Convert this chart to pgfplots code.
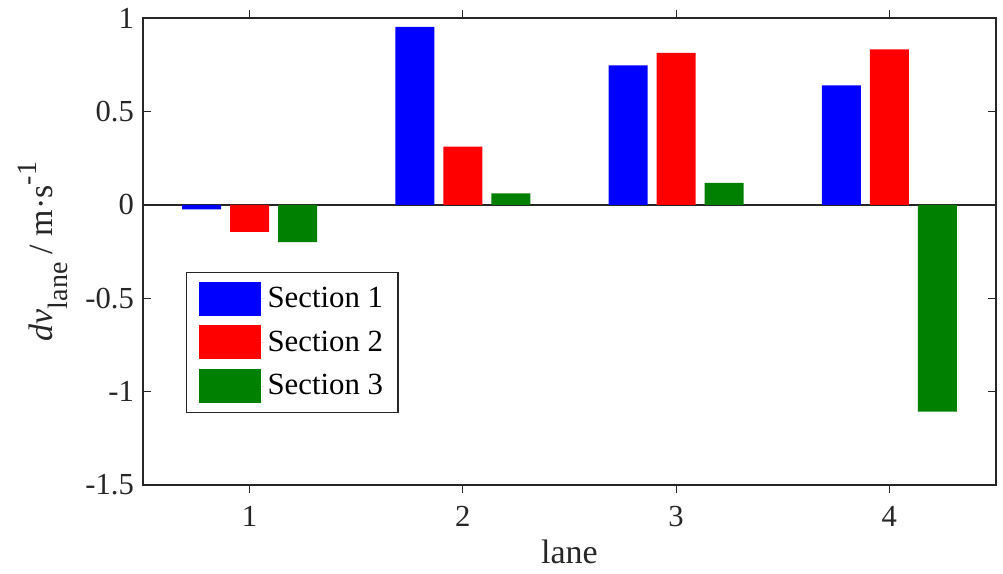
\documentclass[border=0pt]{standalone}
\usepackage{fontspec}
\setmainfont{Liberation Serif}
\usepackage{pgfplots}
\pgfplotsset{compat=1.18}
\definecolor{axgray}{RGB}{38,38,38}
\definecolor{mgreen}{RGB}{0,128,0}
\begin{document}
\begin{tikzpicture}
\begin{axis}[
  name=ax,
  scale only axis,
  width=426.5pt, height=233.5pt,
  xmin=0.5, xmax=4.5, ymin=-1.5, ymax=1,
  xtick={1,2,3,4}, xticklabels={1,2,3,4},
  ytick={-1.5,-1,-0.5,0,0.5,1},
  yticklabels={-1.5,-1,-0.5,0,0.5,1},
  tick align=inside, tick pos=both,
  major tick length=4pt,
  axis line style={draw=axgray, line width=0.6pt},
  every tick/.style={draw=axgray, line width=0.6pt},
  tick label style={font=\fontsize{15.3}{18}\selectfont, text=axgray},
  xticklabel style={yshift=-3pt},
  yticklabel style={xshift=-1pt},
  xlabel={lane},
  ylabel={{\itshape dv}\raisebox{-7.5pt}{\fontsize{14}{14}\selectfont lane} / m·s\raisebox{8pt}{\fontsize{14}{14}\selectfont -1}},
  label style={font=\fontsize{17}{20}\selectfont, text=axgray},
  ylabel style={yshift=2pt},
  ybar=4.5pt, bar width=19.5pt,
  extra y ticks={0}, extra y tick labels={},
  extra y tick style={grid=major, major grid style={draw=axgray, line width=0.8pt}, major tick length=0pt},
  legend style={at={(0.0504,0.456)}, anchor=north west, draw=axgray, line width=0.6pt,
    font=\fontsize{15.4}{18}\selectfont, text=black, inner xsep=6pt, inner ysep=4.5pt, row sep=4.9pt,
    nodes={inner sep=1.5pt}},
  legend cell align=left,
  legend image code/.code={\fill[#1] (0pt,-8.5pt) rectangle (31pt,8.5pt); \path (0pt,0pt) -- (33pt,0pt);},
]
\addplot[fill=blue, draw=none] coordinates {(1,-0.025) (2,0.953) (3,0.747) (4,0.640)};
\addplot[fill=red, draw=none] coordinates {(1,-0.145) (2,0.311) (3,0.813) (4,0.832)};
\addplot[fill=mgreen, draw=none] coordinates {(1,-0.200) (2,0.061) (3,0.118) (4,-1.107)};
\legend{Section 1, Section 2, Section 3}
\end{axis}
\path ([xshift=-71.5pt,yshift=-44pt]ax.south west) rectangle ([xshift=3.5pt,yshift=9pt]ax.north east);
\end{tikzpicture}
\end{document}
